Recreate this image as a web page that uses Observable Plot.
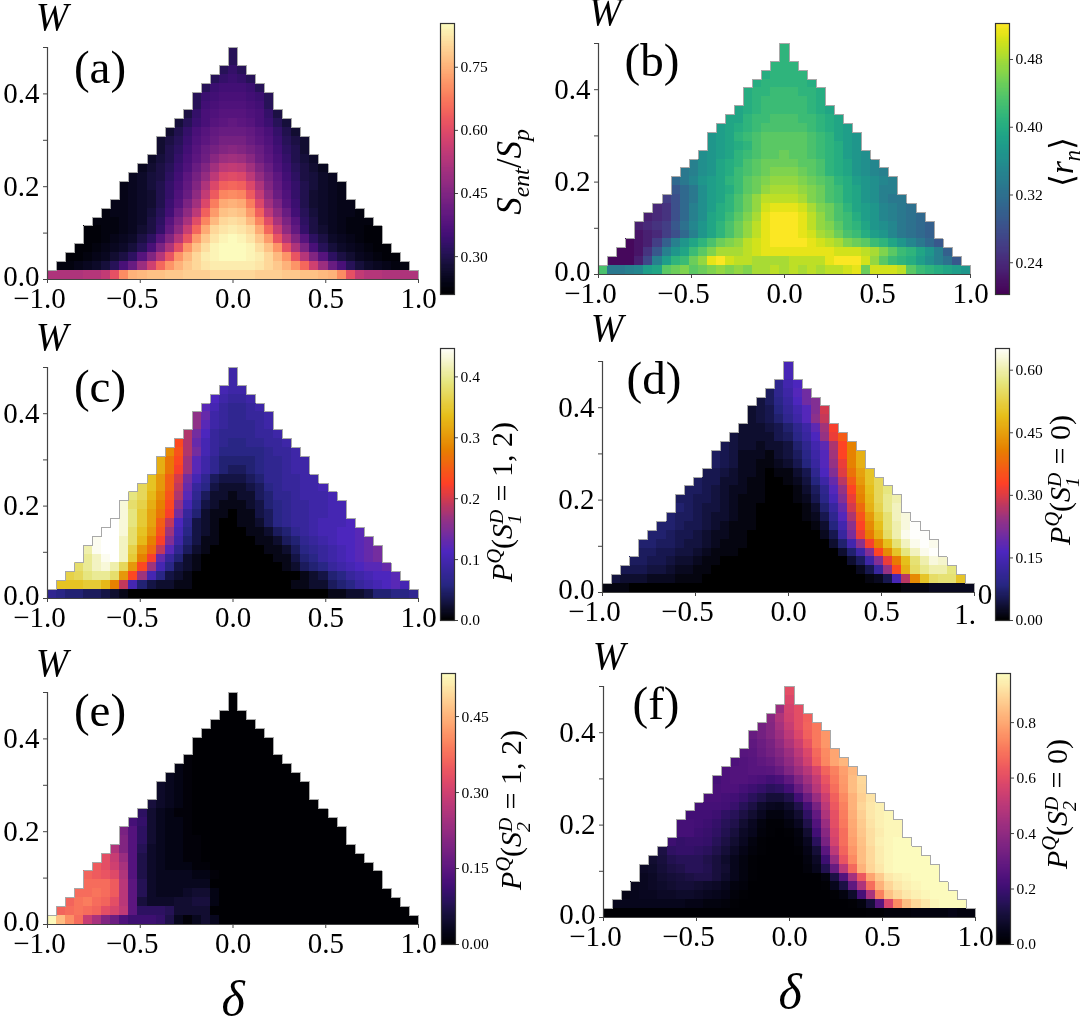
<!DOCTYPE html>
<html><head><meta charset="utf-8">
<script src="https://cdn.jsdelivr.net/npm/d3@7"></script>
<script src="https://cdn.jsdelivr.net/npm/@observablehq/plot@0.6"></script>
<style>
html,body{margin:0;padding:0;background:#fff}
#page{position:relative;width:1080px;height:1019px;overflow:hidden;font-family:"Liberation Serif",serif;color:#000;filter:blur(0.35px)}
.lab{position:absolute;white-space:nowrap;line-height:1;transform:translate(-50%,-50%)}
.tight{line-height:.55}
.rot{transform:translate(-50%,-50%) rotate(-90deg)}
.lab i{font-style:italic}
.lab sub,.lab sup{font-size:.68em;line-height:0}
.ss{display:inline-flex;flex-direction:column;vertical-align:middle;font-size:.66em;line-height:.92;font-style:italic;text-align:left;margin-right:.03em}
#page svg{position:absolute;background:transparent;max-width:none}
</style></head><body><div id="page"></div>
<script>
// Column where each row of the grid starts, from W = 0.00 upward (the grid is 41 x 26)
const rowStart=[0,1,2,3,4,4,5,6,7,8,8,9,10,11,12,12,13,14,15,16,16,17,18,19,20,20];

// Values in hundredths, rows listed from W = 0.50 down to W = 0.00.
// Panel (a) is mirror symmetric: centre column outward.
const rowsA=[
[31],[31],[33,31],[34,33,31],[35,35,34,31],[36,36,35,34,31],[37,37,36,35,31],
[38,38,37,36,33,29],[40,39,38,36,34,31,28],[41,41,40,38,36,33,30,27],
[43,43,41,39,37,34,31,29,27],[46,45,43,41,38,35,32,30,27],
[50,49,46,42,39,36,33,30,28,26],[55,54,50,45,41,37,34,31,29,27,25],
[60,59,54,48,43,39,35,32,29,28,26,25],[65,64,59,52,45,40,36,33,30,28,26,25,24],
[70,69,63,55,47,41,37,33,30,27,26,25,24],[75,74,68,59,50,44,38,34,30,27,26,25,24,24],
[78,77,72,64,54,47,41,35,31,28,26,25,24,24,23],[81,80,76,69,60,51,44,38,32,29,26,25,24,23,23,23],
[83,82,80,74,65,56,47,40,33,29,27,25,24,23,23,22,22],[85,84,82,78,72,62,53,45,38,32,29,26,25,24,23,22,22],
[85,85,84,81,77,71,61,52,44,36,31,28,26,25,24,23,22,22],[85,85,84,83,80,76,71,62,53,45,38,32,29,27,25,24,23,22,22],
[83,83,83,82,80,78,75,71,65,57,49,41,36,31,28,26,25,24,23,23],
[80,80,80,79,79,79,78,78,77,77,76,75,70,61,55,53,53,52,52,52,52]];

const rowsB=[
[41],[41],[41,41,41],[40,41,41,41,41],[40,41,41,41,41,41,40],
[40,41,41,42,42,42,41,41,40],[40,41,42,42,42,42,42,41,40],
[39,40,41,42,42,42,42,42,41,40,39],[39,39,41,42,42,43,43,43,42,42,41,40,39],
[38,39,40,41,42,43,43,43,43,43,42,41,40,39,38],
[37,38,39,41,42,43,44,44,44,44,44,43,42,41,39,38,37],
[37,38,39,40,41,43,44,44,44,44,44,43,42,41,40,38,37],
[36,37,38,39,41,42,43,44,44,45,44,44,43,42,41,40,38,37,36],
[34,36,37,39,40,41,43,44,45,45,45,45,44,44,43,41,40,39,37,36,35],
[33,34,36,37,39,40,42,43,44,45,46,46,46,45,44,43,41,40,39,37,36,35,34],
[31,33,35,37,38,39,41,42,44,45,46,47,47,47,46,45,44,43,41,40,38,37,36,35,34],
[29,31,33,36,38,39,40,42,44,45,47,48,48,48,47,46,45,43,42,40,39,37,36,34,34],
[26,28,31,33,36,38,39,41,43,45,47,49,49,49,49,48,46,45,43,42,40,39,37,36,34,33,33],
[24,25,28,31,34,36,38,40,41,43,45,47,50,51,51,51,50,48,46,45,43,41,39,38,37,35,34,33,32],
[23,24,25,28,31,34,36,39,40,42,44,46,48,51,52,52,52,51,49,47,45,43,42,40,38,37,35,34,33,32,31],
[23,24,25,26,29,32,35,37,39,41,43,45,47,49,51,52,52,52,51,49,47,46,44,42,41,39,37,36,35,33,32,31,30],
[22,23,24,26,28,31,34,37,39,41,43,45,47,49,51,52,52,52,51,50,48,47,45,43,42,40,38,37,35,33,32,31,30],
[21,22,23,26,30,34,37,39,41,43,45,46,47,49,50,51,52,52,52,52,51,50,49,48,46,45,44,42,41,39,37,35,33,31,29],
[21,21,22,25,29,34,37,39,42,44,46,48,48,48,49,50,51,51,51,51,51,51,51,51,50,50,50,49,48,46,44,42,41,39,37,34,30],
[21,21,21,23,27,34,38,41,42,45,47,51,52,50,49,49,48,48,48,48,49,49,49,49,51,52,52,52,50,47,44,42,41,40,38,36,34,32,29],
[43,33,33,34,35,38,39,44,45,46,44,45,46,47,46,47,46,48,48,49,48,49,48,49,48,49,49,50,51,45,50,50,50,49,44,42,41,40,39,38,37]];

const rowsC=[
[9],[9],[10,9,9],[11,9,8,8,9],[12,10,8,7,7,8,9],[16,13,9,8,7,7,8,8,9],[16,12,9,8,7,7,7,8,9],
[18,14,11,8,7,7,7,7,8,8,9],[23,18,13,10,8,7,6,6,7,7,8,8,9],
[29,24,18,14,10,8,6,6,6,6,6,7,8,8,9],[32,27,23,17,12,9,7,5,5,5,5,6,7,7,8,9,9],
[32,27,22,17,12,9,7,5,4,4,5,6,7,7,8,9,9],[34,30,25,20,14,10,7,4,3,3,3,4,5,7,7,8,8,9,9],
[37,34,30,25,19,13,8,6,3,2,2,2,3,4,6,7,8,8,9,9,10],
[39,37,33,29,24,18,12,7,4,2,2,1,2,2,4,5,7,7,8,9,9,9,10],
[43,38,36,32,28,23,16,10,6,3,2,1,1,1,2,3,5,6,7,8,8,9,9,10,10],
[43,39,35,31,27,22,14,8,5,2,1,1,0,1,1,3,4,6,7,8,8,9,9,10,10],
[45,43,39,35,31,25,19,11,7,3,2,1,0,0,1,1,2,4,6,7,8,8,9,10,10,10,11],
[45,45,43,38,34,30,24,17,10,6,3,2,1,0,0,0,1,1,2,4,5,7,8,9,10,10,11,11,12],
[44,45,45,42,38,33,28,22,15,9,5,3,1,1,0,0,0,0,1,1,2,4,5,7,8,9,10,11,11,12,13],
[41,44,45,45,42,36,30,26,19,12,7,4,2,1,0,0,0,0,0,0,1,1,2,4,6,7,8,9,10,11,12,13,14],
[40,42,44,45,42,35,28,22,13,8,5,2,1,0,0,0,0,0,0,0,0,1,1,3,5,6,8,9,10,11,12,13,14],
[38,40,42,43,41,37,30,23,17,10,6,3,2,1,0,0,0,0,0,0,0,0,0,1,2,4,5,6,8,9,10,11,12,12,13],
[36,37,39,40,40,38,30,23,17,10,6,3,2,1,0,0,0,0,0,0,0,0,0,0,0,0,1,2,3,5,6,8,9,10,11,11,12],
[34,34,34,35,35,33,28,19,10,5,3,2,2,1,1,0,0,0,0,0,0,0,0,0,0,0,1,1,2,2,4,5,6,8,9,10,11,12,10],
[7,6,5,5,4,4,3,2,1,0,0,0,0,0,0,0,0,0,0,0,0,0,0,0,0,0,0,0,0,0,0,1,1,2,2,3,5,5,6,6,7]];

const rowsD=[
[15],[15],[10,14,16],[6,10,13,17,20],[4,6,9,12,16,20,22],[3,4,5,8,11,14,17,22,29],[3,4,5,7,10,13,17,23,28],
[3,3,3,4,5,7,10,13,18,25,32],[4,3,3,3,3,5,6,9,12,16,24,31,36],
[5,4,3,3,2,3,3,4,7,10,14,18,26,33,41],[6,5,4,2,2,2,1,3,4,6,9,13,17,25,33,41,47],
[6,5,4,2,2,1,1,2,3,5,8,12,17,24,31,41,47],
[5,5,4,3,2,2,1,0,1,1,3,5,10,16,22,30,39,45,50],
[6,5,5,3,3,2,1,1,0,0,1,2,4,8,13,19,27,36,44,50,54],
[6,6,5,4,3,2,2,1,1,0,0,0,1,3,6,10,17,24,33,42,49,54,57],
[6,6,5,5,4,3,2,1,1,1,0,0,0,1,2,5,9,15,22,31,41,48,54,58,60],
[7,6,5,4,4,3,2,1,1,0,0,0,0,0,1,3,7,12,19,29,38,47,53,58,61],
[7,6,6,5,4,3,3,2,1,1,0,0,0,0,0,1,2,5,10,17,26,35,44,51,56,61,63],
[7,7,6,5,5,4,3,2,1,1,1,0,0,0,0,0,0,1,3,8,14,23,33,42,49,56,60,63,65],
[7,7,6,5,5,4,3,2,2,1,1,0,0,0,0,0,0,0,0,2,5,12,21,31,40,47,55,60,64,65,65],
[7,7,6,6,5,4,4,3,2,1,1,1,0,0,0,0,0,0,0,0,0,3,7,14,23,32,41,49,56,61,64,65,64],
[6,6,5,5,4,4,3,2,1,1,1,0,0,0,0,0,0,0,0,0,0,0,3,7,13,22,33,42,50,57,61,64,65],
[6,6,5,5,4,3,3,2,1,1,0,0,0,0,0,0,0,0,0,0,0,0,0,0,3,6,13,22,31,40,49,56,60,63,62],
[5,5,5,4,4,3,2,2,1,1,0,0,0,0,0,0,0,0,0,0,0,0,0,0,0,0,2,5,12,24,34,47,55,58,60,60,57],
[4,3,3,3,2,2,2,1,1,1,0,0,0,0,0,0,0,0,0,0,0,0,0,0,0,0,0,0,1,2,5,15,27,42,50,55,56,56,50],
[1,1,1,0,0,0,0,0,0,0,0,0,0,0,0,0,0,0,0,0,0,0,0,0,0,0,0,0,0,0,0,0,0,1,1,1,2,2,2,2,2]];

// Panel (e): cells right of the listed ones are zero.
const rowsE=[
[],[],[],[],[],[],[],[1],[2,1],[3,2,1],[4,3,2,1],[4,3,2,1],[6,4,3,2,1],[9,5,3,2,1,1],
[12,10,5,3,2,2,1],[19,14,9,5,3,2,2,1],[20,14,9,5,3,2,2,1,1],[26,20,14,8,4,3,2,2,1,1],
[33,29,23,14,7,4,3,2,2,1,1],[35,33,30,25,14,7,4,3,2,2,2,1,1],
[36,35,34,32,26,14,7,4,3,3,3,3,2,2,1],[37,37,37,35,27,15,8,4,3,3,3,3,3,3],
[37,37,38,37,35,27,15,8,4,3,3,3,4,5,5,2],[36,38,39,37,36,33,27,15,6,4,4,4,5,5,6,6,2],
[36,37,38,37,36,33,31,28,15,9,9,9,8,5,5,5,5],
[53,46,41,37,29,25,20,17,13,11,11,11,10,7,3,1,3,5,3]];

const rowsF=[
[60],[58],[42,56,60],[38,47,55,60,65],[33,37,45,53,60,66,70],[30,33,37,43,50,58,65,70,76],[28,31,34,40,47,54,62,70,76],
[26,27,30,33,37,43,50,58,67,74,79],[24,25,26,28,30,34,40,47,55,65,73,79,83],
[24,25,25,26,26,27,30,36,43,49,57,66,72,78,83],[22,24,25,25,24,23,21,23,28,36,44,52,62,70,77,84,90],
[23,24,24,22,20,18,16,17,21,30,39,49,59,68,76,84,89],
[23,23,22,21,19,16,13,10,10,13,21,31,42,54,65,74,82,88,92],
[22,22,22,21,19,15,12,8,6,5,8,13,22,34,50,63,72,82,89,93,95],
[21,21,21,20,17,15,12,9,6,3,3,5,9,17,29,47,61,71,81,88,93,95,96],
[22,22,21,20,18,15,13,9,6,3,1,1,3,6,13,25,42,60,70,80,87,92,95,96,96],
[22,22,20,19,17,14,11,7,5,2,1,0,1,3,9,21,38,58,68,79,86,91,94,96,96],
[20,18,19,19,18,15,12,9,6,3,1,0,0,0,2,6,16,34,56,68,78,85,91,95,96,97,97],
[12,17,18,18,17,16,13,10,7,4,2,1,0,0,0,1,4,10,27,50,66,76,84,90,94,96,97,97,97],
[9,11,14,15,15,15,13,11,8,5,3,1,0,0,0,0,0,3,7,20,42,62,74,84,90,94,96,97,97,97,97],
[7,8,10,12,13,15,15,14,11,9,5,3,1,0,0,0,0,0,2,5,14,30,50,67,82,89,93,96,97,97,97,97,97],
[6,7,9,10,11,12,13,13,11,8,5,3,1,0,0,0,0,0,0,0,3,12,25,45,63,79,87,93,95,96,97,97,97],
[5,6,7,8,9,10,10,9,8,7,5,3,2,0,0,0,0,0,0,0,0,1,5,12,28,47,68,82,89,93,95,96,97,97,97],
[4,5,6,6,7,7,8,8,7,6,5,4,2,1,0,0,0,0,0,0,0,0,0,1,3,8,22,46,72,85,90,93,95,96,97,97,97],
[5,5,5,5,5,5,5,5,4,4,3,3,2,1,0,0,0,0,0,0,0,0,0,0,0,0,1,3,10,26,57,74,84,90,93,96,97,97,97],
[0,0,0,0,0,0,0,0,0,0,0,0,0,0,0,0,0,0,0,0,0,0,0,0,0,0,0,0,0,1,1,2,2,2,3,3,3,3,4,3,3]];

// Tick labels
const deltaTicks=[-1,-0.5,0,0.5,1];
const wTicks=[0,0.1,0.2,0.3,0.4,0.5];
const wLabelled=[0,0.2,0.4];
const nColumns=41, nRows=26, wMax=0.5;

const cmrStops=["#000000","#262680","#4d26bf","#993380","#ff4026","#e68000","#e6bf1a","#e6e680","#ffffff"];
const cmr=d3.piecewise(d3.interpolateRgb,cmrStops);

const mirror=r=>[...r.slice(1).reverse(),...r];
const S=(a,b)=>`<i>S</i><span class="ss"><span>${a}</span><span>${b}</span></span>`;
const PQ=`<i>P</i><sup><i>Q</i></sup>`;

const panels=[
{tag:"(a)",rows:rowsA.map(mirror),scheme:"magma",dom:[0.21,0.854],bt:[0.30,0.45,0.60,0.75],bf:".2f",
 x0:47,x1:418,y0:279,yt:47,bx:440,bw:14,bt0:23,bb:294,
 W:[52,17],L:[100,67],lab:[509,172],html:`<i>S</i><sub><i>ent</i></sub>/<i>S</i><sub><i>p</i></sub>`,fs:35},
{tag:"(b)",rows:rowsB,scheme:"viridis",dom:[0.2025,0.5225],bt:[0.24,0.32,0.40,0.48],bf:".2f",
 x0:598,x1:970,y0:274,yt:43,bx:995,bw:14,bt0:23,bb:294,
 W:[605,12],L:[652,60],lab:[1062,162],html:`⟨<i>r</i><sub><i>n</i></sub>⟩`,fs:33},
{tag:"(c)",rows:rowsC,interp:cmr,dom:[0,0.4466],bt:[0,0.1,0.2,0.3,0.4],bf:".1f",
 x0:47,x1:418,y0:598,yt:367,bx:440,bw:14,bt0:348,bb:620,
 W:[52,337],L:[100,386],lab:[505,502],html:`${PQ}(${S("D","1")} = 1, 2)`,fs:30},
{tag:"(d)",rows:rowsD,interp:cmr,dom:[0,0.652],bt:[0,0.15,0.30,0.45,0.60],bf:".2f",cut:true,
 x0:602,x1:974,y0:592,yt:361,bx:995,bw:14,bt0:348,bb:620,
 W:[607,328],L:[654,378],lab:[1063,480],html:`${PQ}(${S("D","1")} = 0)`,fs:30},
{tag:"(e)",rows:rowsE,scheme:"magma",dom:[0,0.535],bt:[0,0.15,0.30,0.45],bf:".2f",
 x0:47,x1:418,y0:924,yt:692,bx:441,bw:14,bt0:673,bb:944,
 W:[52,663],L:[100,710],lab:[514,810],html:`${PQ}(${S("D","2")} = 1, 2)`,fs:30,delta:[233,1000]},
{tag:"(f)",rows:rowsF,scheme:"magma",dom:[0,0.977],bt:[0,0.2,0.4,0.6,0.8],bf:".1f",
 x0:603,x1:975,y0:917,yt:686,bx:996,bw:14,bt0:673,bb:944,
 W:[609,656],L:[656,703],lab:[1060,804],html:`${PQ}(${S("D","2")} = 0)`,fs:30,delta:[790,993]}
];

const page=document.getElementById("page");
function label(html,x,y,size,cls){
  const d=document.createElement("div");
  d.className="lab"+(cls?" "+cls:"");
  d.style.left=x+"px";d.style.top=y+"px";d.style.fontSize=size+"px";
  d.innerHTML=html;page.appendChild(d);
}
function place(svg,left,top){
  svg.style.left=left+"px";svg.style.top=top+"px";page.appendChild(svg);
}
const colEdge=c=>-1+2*c/nColumns;
const rowEdge=r=>wMax*r/nRows;

for(const p of panels){
  const cells=[];
  p.rows.forEach((row,i)=>{
    const r=nRows-1-i, start=rowStart[r], n=nColumns-2*start;
    for(let k=0;k<n;k++){
      cells.push({x1:colEdge(start+k),x2:colEdge(start+k+1),y1:rowEdge(r),y2:rowEdge(r+1),v:(row[k]??0)/100});
    }
  });
  // stepped outline of the triangular domain
  const left=rowStart.flatMap((c,r)=>[[colEdge(c),rowEdge(r)],[colEdge(c),rowEdge(r+1)]]);
  const right=rowStart.flatMap((c,r)=>[[colEdge(nColumns-c),rowEdge(r)],[colEdge(nColumns-c),rowEdge(r+1)]]).reverse();
  const outline=[...left,...right];

  const color=p.interp?{type:"linear",domain:p.dom,interpolate:p.interp}:{type:"linear",domain:p.dom,scheme:p.scheme};
  const ml=47,mr=24,mt=4,mb=42;
  const fmt1=d3.format(".1f");
  const ax={tickSize:0,fontSize:29,tickPadding:8};
  const pos=deltaTicks.filter(d=>d>=0), neg=deltaTicks.filter(d=>d<0);
  const heat=Plot.plot({
    width:p.x1-p.x0+ml+mr,height:p.y0-p.yt+mt+mb,
    marginLeft:ml,marginRight:mr,marginTop:mt,marginBottom:mb,
    style:{fontFamily:"'Liberation Serif',serif",background:"transparent",color:"#000",overflow:"visible"},
    x:{domain:[-1,1],axis:null},y:{domain:[0,wMax],axis:null},
    color,
    marks:[
      Plot.rect(cells,{x1:"x1",x2:"x2",y1:"y1",y2:"y2",fill:"v",inset:0,shapeRendering:"crispEdges"}),
      Plot.line(outline,{x:d=>d[0],y:d=>d[1],stroke:"#a8a8a8",strokeWidth:1,shapeRendering:"crispEdges"}),
      Plot.ruleX([-1],{stroke:"#444",strokeWidth:1.2}),
      Plot.ruleY([0],{stroke:"#444",strokeWidth:1.2}),
      Plot.axisX({ticks:deltaTicks,tickSize:4,tickFormat:()=>"",stroke:"#444",anchor:"bottom"}),
      Plot.axisY({ticks:wTicks,tickSize:4,tickFormat:()=>"",stroke:"#444",anchor:"left"}),
      Plot.axisX({...ax,ticks:neg,tickFormat:fmt1,anchor:"bottom",dx:-8,tickPadding:8}),
      Plot.axisX({...ax,ticks:pos,tickFormat:d=>(p.cut&&d===1)?"":fmt1(d),anchor:"bottom",tickPadding:8}),
      Plot.axisY({...ax,ticks:wLabelled.filter(d=>d>0),tickFormat:fmt1,anchor:"left"}),
      Plot.axisY({...ax,ticks:[0],tickFormat:fmt1,anchor:"left",dy:-3})
    ]
  });
  place(heat,p.x0-ml,p.yt-mt);

  // colour bar
  const [d0,d1]=p.dom;
  const ramp=d3.range(0,256).map(i=>({a:d0+(d1-d0)*i/256,b:d0+(d1-d0)*(i+1)/256}));
  const mR=46;
  const bar=Plot.plot({
    width:p.bw+mR+1,height:p.bb-p.bt0+2,
    marginLeft:1,marginRight:mR,marginTop:1,marginBottom:1,
    style:{fontFamily:"'Liberation Serif',serif",background:"transparent",color:"#000",overflow:"visible"},
    x:{domain:[0,1],axis:null},y:{domain:p.dom,axis:null},
    color,
    marks:[
      Plot.rect(ramp,{x1:0,x2:1,y1:"a",y2:"b",fill:"a",inset:0,shapeRendering:"crispEdges"}),
      Plot.frame({stroke:"#333",strokeWidth:1.2}),
      Plot.axisY({ticks:p.bt,tickFormat:d3.format(p.bf),anchor:"right",tickSize:3,tickPadding:3,fontSize:15.5,stroke:"#444"})
    ]
  });
  place(bar,p.bx-1,p.bt0-1);

  label(`<i>W</i>`,p.W[0],p.W[1],39,"tight");
  label(p.tag,p.L[0],p.L[1],47);
  label(p.html,p.lab[0],p.lab[1],p.fs,"rot");
  if(p.delta) label(`<i>δ</i>`,p.delta[0],p.delta[1],50,"tight");
  if(p.cut){
    label("1.",965,614,29);
    label("0",985,594,29);
  }
}
</script></body></html>
